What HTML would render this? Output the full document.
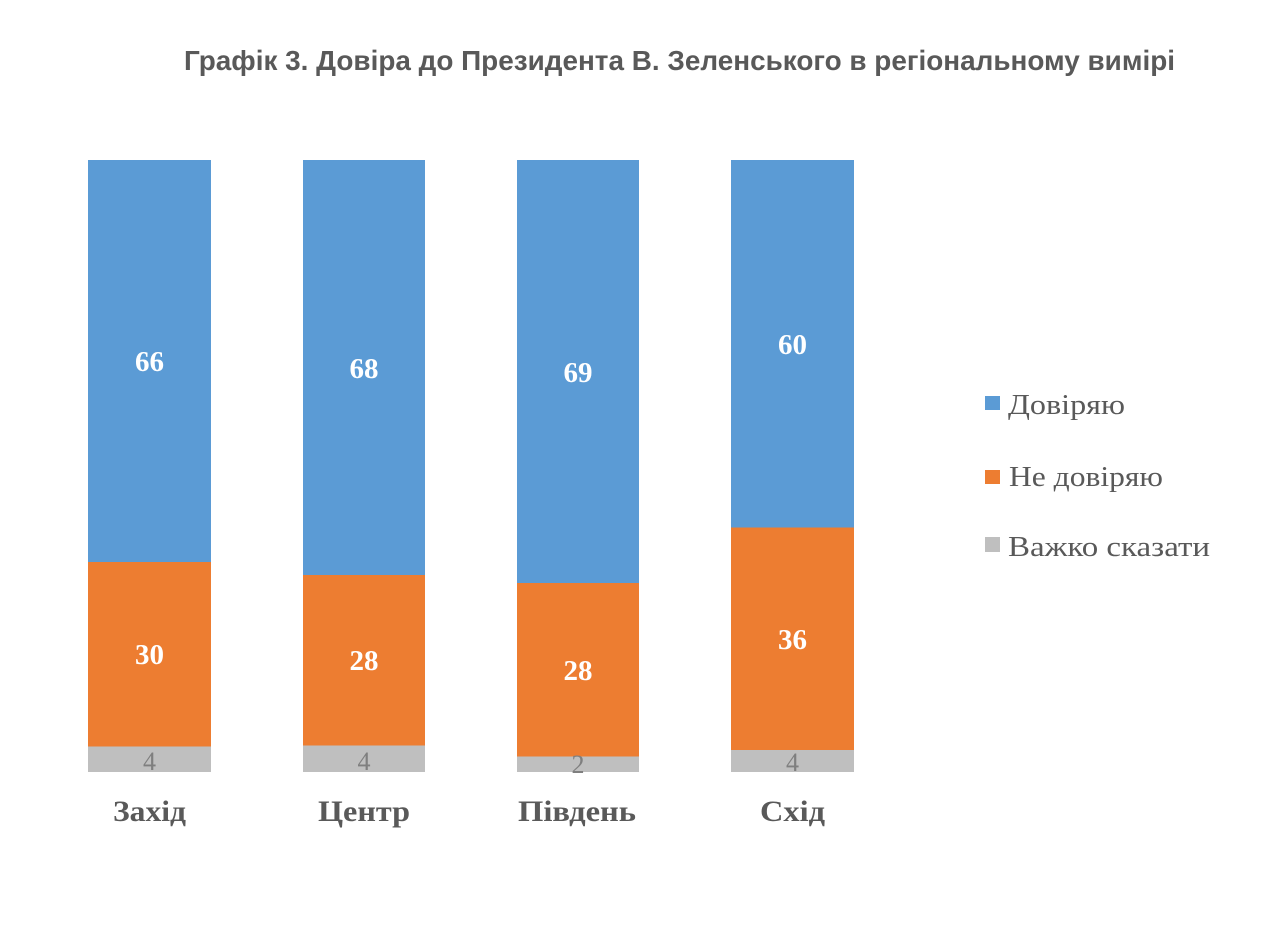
<!DOCTYPE html>
<html>
<head>
<meta charset="utf-8">
<style>
  html, body { margin: 0; padding: 0; background: #ffffff; }
  svg { display: block; }
</style>
</head>
<body>
<svg width="1270" height="932" viewBox="0 0 1270 932" xmlns="http://www.w3.org/2000/svg">
  <rect width="1270" height="932" fill="#ffffff"/>

  <!-- Title -->
  <text x="184" y="70" font-family="'Liberation Sans', Arial, sans-serif" font-weight="bold" font-size="27.5" fill="#595959" textLength="991" lengthAdjust="spacingAndGlyphs">Графік 3. Довіра до Президента В. Зеленського в регіональному вимірі</text>

  <!-- Захід -->
  <rect x="88" y="160" width="123" height="402" fill="#5b9bd5"/>
  <rect x="88" y="562" width="123" height="184.5" fill="#ed7d31"/>
  <rect x="88" y="746.5" width="123" height="25.5" fill="#bfbfbf"/>

  <!-- Центр -->
  <rect x="303" y="160" width="122" height="415" fill="#5b9bd5"/>
  <rect x="303" y="575" width="122" height="170.5" fill="#ed7d31"/>
  <rect x="303" y="745.5" width="122" height="26.5" fill="#bfbfbf"/>

  <!-- Південь -->
  <rect x="517" y="160" width="122" height="423" fill="#5b9bd5"/>
  <rect x="517" y="583" width="122" height="173.5" fill="#ed7d31"/>
  <rect x="517" y="756.5" width="122" height="15.5" fill="#bfbfbf"/>

  <!-- Схід -->
  <rect x="731" y="160" width="123" height="367.5" fill="#5b9bd5"/>
  <rect x="731" y="527.5" width="123" height="222.5" fill="#ed7d31"/>
  <rect x="731" y="750" width="123" height="22" fill="#bfbfbf"/>

  <!-- Value labels (white bold) -->
  <g font-family="'Liberation Serif', 'Times New Roman', serif" font-weight="bold" font-size="29" fill="#ffffff" text-anchor="middle">
    <text x="149.5" y="371">66</text>
    <text x="149.5" y="664">30</text>
    <text x="364" y="378">68</text>
    <text x="364" y="670">28</text>
    <text x="578" y="382">69</text>
    <text x="578" y="680">28</text>
    <text x="792.5" y="354">60</text>
    <text x="792.5" y="649">36</text>
  </g>

  <!-- Gray segment labels -->
  <g font-family="'Liberation Serif', 'Times New Roman', serif" font-size="26" fill="#7f7f7f" text-anchor="middle">
    <text x="149.5" y="770">4</text>
    <text x="364" y="770">4</text>
    <text x="578" y="773">2</text>
    <text x="792.5" y="771">4</text>
  </g>

  <!-- Category labels -->
  <g font-family="'Liberation Serif', 'Times New Roman', serif" font-weight="bold" font-size="30" fill="#595959" text-anchor="middle">
    <text x="149.5" y="821" textLength="73" lengthAdjust="spacingAndGlyphs">Захід</text>
    <text x="364" y="821" textLength="92" lengthAdjust="spacingAndGlyphs">Центр</text>
    <text x="577" y="821" textLength="118" lengthAdjust="spacingAndGlyphs">Південь</text>
    <text x="792.5" y="821" textLength="65" lengthAdjust="spacingAndGlyphs">Схід</text>
  </g>

  <!-- Legend -->
  <rect x="985" y="396" width="15" height="14" fill="#5b9bd5"/>
  <rect x="985" y="470" width="15" height="14" fill="#ed7d31"/>
  <rect x="985" y="537" width="15" height="15" fill="#bfbfbf"/>
  <g font-family="'Liberation Serif', 'Times New Roman', serif" font-size="29" fill="#595959">
    <text x="1008" y="414" textLength="117" lengthAdjust="spacingAndGlyphs">Довіряю</text>
    <text x="1009" y="486" textLength="154" lengthAdjust="spacingAndGlyphs">Не довіряю</text>
    <text x="1008" y="556" textLength="202" lengthAdjust="spacingAndGlyphs">Важко сказати</text>
  </g>
</svg>
</body>
</html>
